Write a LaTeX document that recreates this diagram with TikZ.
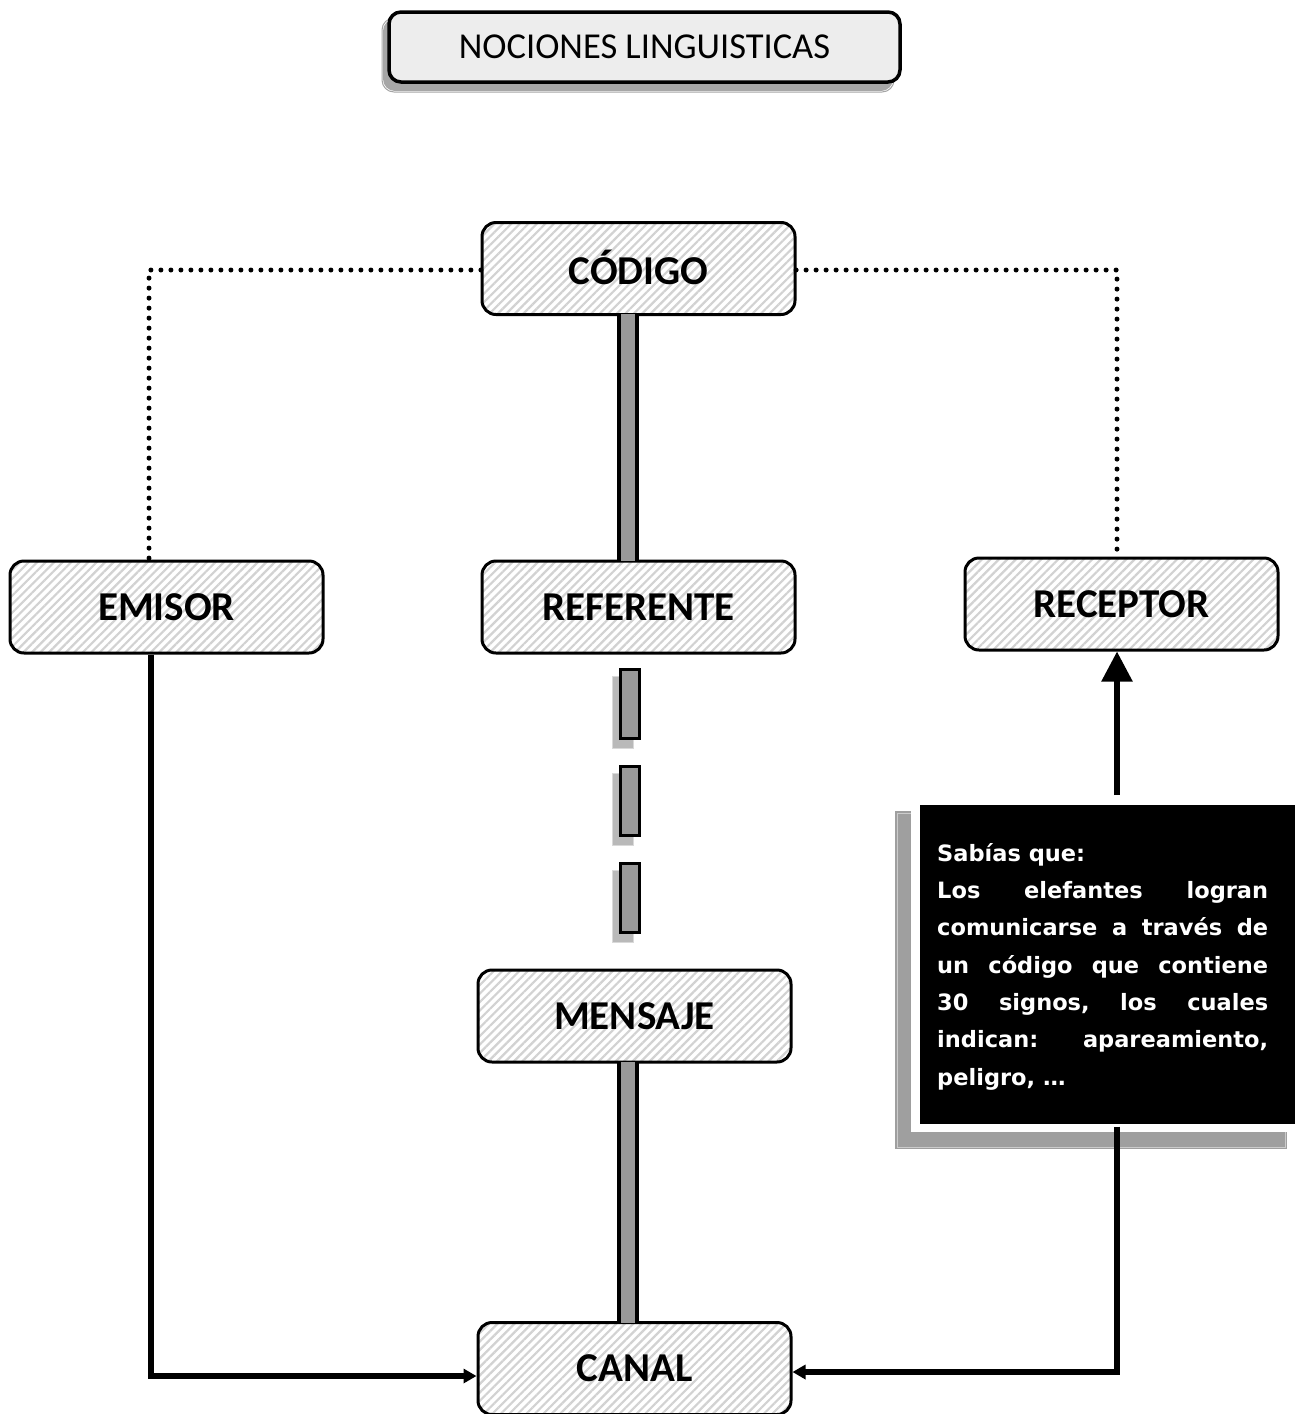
\documentclass[tikz,border=0pt]{standalone}
\usepackage{fontspec}
\setmainfont{Carlito}
\newfontfamily\infofont{DejaVu Sans}
\usetikzlibrary{patterns.meta,arrows.meta,calc}
\begin{document}
\begin{tikzpicture}[x=1pt,y=-1pt,
  hbox/.style={rounded corners=14pt,line width=3pt,draw=black,
    minimum width=313pt,minimum height=92pt,inner sep=0pt,
    font=\fontsize{41}{43}\selectfont\bfseries,
    preaction={fill=white},
    pattern={Lines[angle=45,distance=6pt,line width=2.2pt]},pattern color=gray!35},
  dotline/.style={line width=5pt,line cap=round,dash pattern=on 0pt off 10pt},
  solidline/.style={line width=5.5pt},
  smallhead/.style={-{Triangle[width=14pt,length=13pt]}},
  bar/.style={line width=22pt,draw=black},
  barin/.style={line width=14pt,draw=gray!80},
]
\useasboundingbox (0,0) rectangle (1298,1414);
% title
\fill[gray!70,rounded corners=12pt] (383,19) rectangle (893,91);
\draw[gray!70,line width=1pt, rounded corners=12pt] (382,18) rectangle (894,92);
\node[draw=black,line width=3.5pt,rounded corners=12pt,fill=gray!14,
  minimum width=511pt,minimum height=70pt,inner sep=0pt,
  font=\fontsize{36.5}{38}\selectfont] (title) at (644.5,47) {NOCIONES LINGUISTICAS};

% connectors behind boxes
\coordinate (dl) at (149,270);
\coordinate (dr) at (1117,270);
\coordinate (xl) at (151,1376);
\coordinate (xr) at (1117,1372);
\coordinate (ar) at (1117,795);
\node[hbox] (codigo) at (638.5,268.5) {\raisebox{3pt}{CÓDIGO}};
\node[hbox] (emisor) at (166.5,607) {EMISOR};
\node[hbox] (referente) at (638.5,607) {REFERENTE};
\node[hbox] (receptor) at (1121.5,604) {RECEPTOR};
\node[hbox] (mensaje) at (634.5,1016) {MENSAJE};
\node[hbox] (canal) at (634.5,1368.5) {CANAL};

% info box
\fill[gray!75] (895,811) rectangle (1287,1149);
\draw[gray!40,line width=1pt] (897,813) rectangle (1285,1147);
\fill[white] (911,803) rectangle (1296,1132);
\node[fill=black,draw=white,line width=3pt,minimum width=378pt,minimum height=322pt,
  inner sep=0pt,text=white] (info) at (1107,964) {};
\node[anchor=north west,text=white,inner sep=0pt,
  font=\infofont\bfseries\fontsize{22.5}{37.3}\selectfont] (infotext) at (937,843)
  {\parbox[t]{331pt}{Sabías que:\\
  Los\hfill elefantes\hfill logran\\
  comunicarse\hfill a\hfill través\hfill de\\
  un\hfill código\hfill que\hfill contiene\\
  30\hfill signos,\hfill los\hfill cuales\\
  indican:\hfill apareamiento,\\
  peligro, …}};

% dotted lines
\draw[dotline] (codigo.west |- dl) -- (dl) -- (dl |- emisor.north);
\draw[dotline] (codigo.east |- dr) -- (dr) -- (dr |- receptor.north);

% bars
\draw[gray!60,line width=3pt] ([xshift=-15pt,yshift=1.5pt]codigo.south) -- ([xshift=-15pt,yshift=-1.5pt]referente.north);
\draw[bar] ([xshift=-11pt,yshift=1.5pt]codigo.south) -- ([xshift=-11pt,yshift=-1.5pt]referente.north);
\draw[barin] ([xshift=-11pt,yshift=1.5pt]codigo.south) -- ([xshift=-11pt,yshift=-1.5pt]referente.north);
\draw[gray!60,line width=3pt] ([xshift=-11pt,yshift=1.5pt]mensaje.south) -- ([xshift=-11pt,yshift=-1.5pt]canal.north);
\draw[bar] ([xshift=-6.5pt,yshift=1.5pt]mensaje.south) -- ([xshift=-6.5pt,yshift=-1.5pt]canal.north);
\draw[barin] ([xshift=-6.5pt,yshift=1.5pt]mensaje.south) -- ([xshift=-6.5pt,yshift=-1.5pt]canal.north);

% dashes between REFERENTE and MENSAJE
\foreach \y in {668,765,862}{
  \fill[gray!55] (612,\y+8) rectangle (633,\y+80);
  \draw[gray!30,line width=1pt] (612,\y+8) rectangle (633,\y+80);
  \draw[fill=gray!80,line width=3pt] (620.5,\y+1.5) rectangle (639.5,\y+70.5);
}

% solid connectors
\draw[solidline,smallhead] (emisor.south -| xl) -- (xl) -- (canal.west |- xl);
\draw[solidline,smallhead] (info.south -| xr) -- (xr) -- (canal.east |- xr);
\draw[solidline,-{Triangle[width=30pt,length=30pt]}] (ar) -- (receptor.south -| ar);
\end{tikzpicture}
\end{document}
